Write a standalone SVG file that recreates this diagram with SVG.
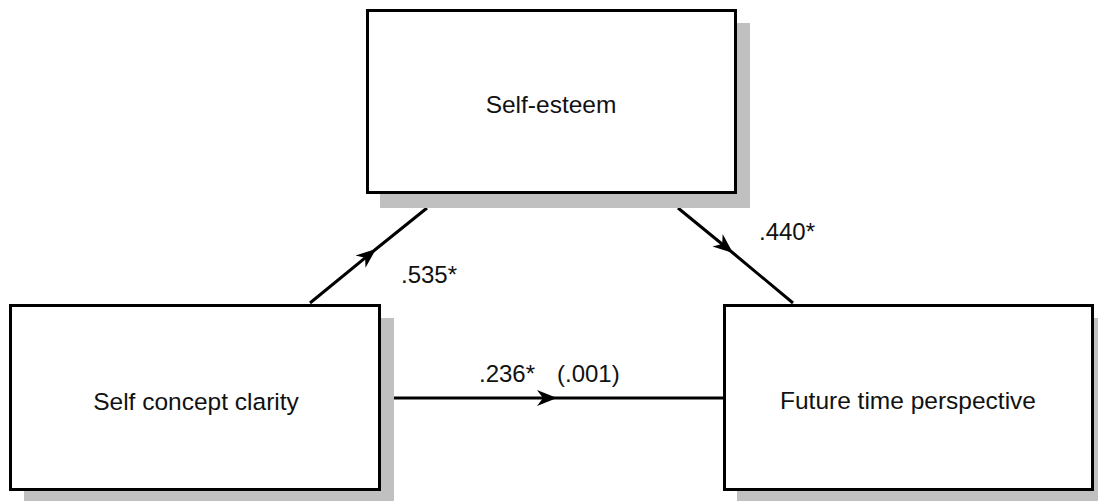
<svg xmlns="http://www.w3.org/2000/svg" width="1098" height="501" viewBox="0 0 1098 501">
<style>
.shadow{fill:#c0c0c0;stroke:none}
.box{fill:#fff;stroke:#000;stroke-width:3}
.lbl{font-family:"Liberation Sans",Arial,sans-serif;font-size:24px;fill:#111}
.node{font-family:"Liberation Sans",Arial,sans-serif;font-size:24.5px;fill:#111;text-anchor:middle}
.edge{fill:none;stroke:#000;stroke-width:3;marker-mid:url(#ah)}
</style>
<defs>
<marker id="ah" markerUnits="userSpaceOnUse" viewBox="-20 -9 22 18" refX="0" refY="0" markerWidth="22" markerHeight="18" orient="auto">
<path d="M0,0 L-20,-8 L-14,0 L-20,8 Z" fill="#000"/>
</marker>
</defs>
<rect width="1098" height="501" fill="#fff"/>
<g id="connectors">
<path class="edge" d="M310,303 L376,249 L427,208"/>
<path class="edge" d="M678,208 L733,253 L793,303"/>
<path class="edge" d="M394,398 L557,398 L723,398"/>
</g>
<g id="node-self-esteem">
<rect class="shadow" x="380" y="23" width="370" height="185"/>
<rect class="box" x="367.5" y="10.5" width="368" height="182"/>
<text class="node" x="551" y="113">Self-esteem</text>
</g>
<g id="node-self-concept-clarity">
<rect class="shadow" x="24" y="318" width="370" height="190"/>
<rect class="box" x="10.5" y="305.5" width="369" height="184"/>
<text class="node" x="196" y="410">Self concept clarity</text>
</g>
<g id="node-future-time-perspective">
<rect class="shadow" x="737" y="318" width="370" height="190"/>
<rect class="box" x="724.5" y="305.5" width="368" height="184"/>
<text class="node" x="908" y="409">Future time perspective</text>
</g>
<g id="labels">
<text class="lbl" x="401" y="283">.535*</text>
<text class="lbl" x="759" y="240">.440*</text>
<text class="lbl" x="479" y="382">.236*</text>
<text class="lbl" x="557" y="382">(.001)</text>
</g>
</svg>
